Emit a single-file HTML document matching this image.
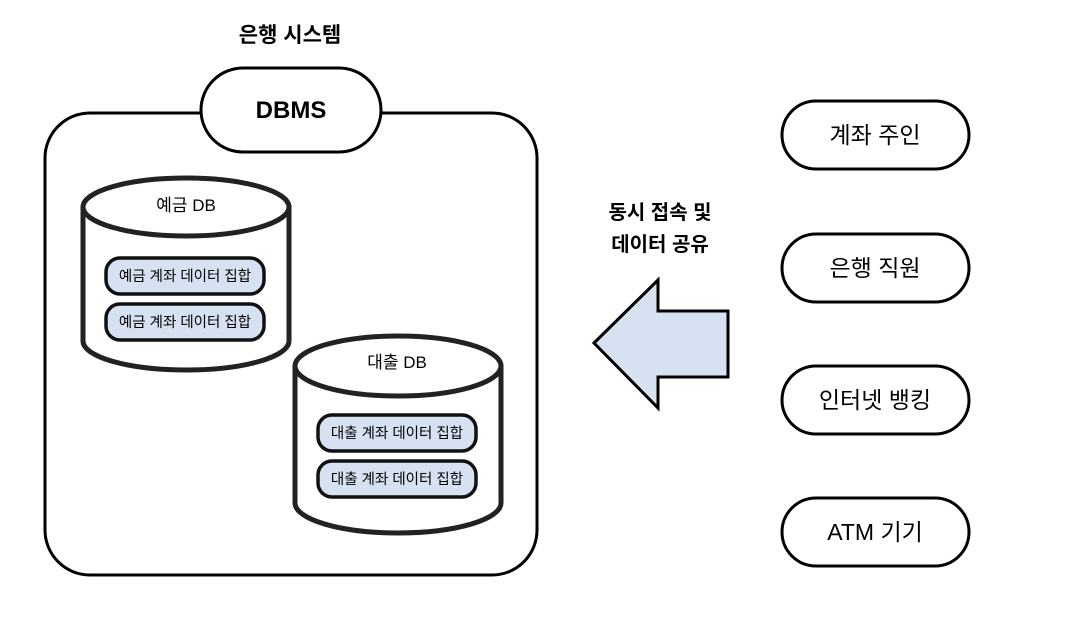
<!DOCTYPE html>
<html><head><meta charset="utf-8"><style>
body{margin:0;background:#fff}
svg text{font-family:"Liberation Sans","Noto Sans CJK KR",sans-serif;fill:#000}
</style></head><body>
<svg width="1080" height="619" viewBox="0 0 1080 619" xmlns="http://www.w3.org/2000/svg">
<text x="290" y="42" font-size="21" font-weight="bold" text-anchor="middle">은행 시스템</text>
<rect x="45" y="113" width="492" height="462" rx="45" fill="#fff" stroke="#000" stroke-width="3"/>
<rect x="201" y="68" width="180" height="84" rx="42" fill="#fff" stroke="#000" stroke-width="3"/>
<text x="291" y="118" font-size="24" font-weight="bold" text-anchor="middle">DBMS</text>
<g stroke="#222" stroke-width="5" fill="#fff">
<path d="M83 207 V341 A103 29 0 0 0 289 341 V207"/>
<ellipse cx="186" cy="207" rx="103" ry="29"/>
<path d="M295 365 V503 A103 30 0 0 0 501 503 V365"/>
<ellipse cx="398" cy="366" rx="103" ry="30"/>
</g>
<text x="186" y="211" font-size="17" text-anchor="middle">예금 DB</text>
<text x="397" y="368" font-size="17" text-anchor="middle">대출 DB</text>
<g stroke="#111" stroke-width="3.5" fill="#d6e2f1">
<rect x="106" y="258" width="158" height="36" rx="14"/>
<rect x="106" y="304" width="158" height="36" rx="14"/>
<rect x="318" y="415" width="158" height="36" rx="14"/>
<rect x="318" y="461" width="158" height="36" rx="14"/>
</g>
<g font-size="14.5" text-anchor="middle">
<text x="185" y="281">예금 계좌 데이터 집합</text>
<text x="185" y="327">예금 계좌 데이터 집합</text>
<text x="397" y="438">대출 계좌 데이터 집합</text>
<text x="397" y="484">대출 계좌 데이터 집합</text>
</g>
<text x="660" y="219" font-size="20" font-weight="bold" text-anchor="middle">동시 접속 및</text>
<text x="660" y="251" font-size="20" font-weight="bold" text-anchor="middle">데이터 공유</text>
<polygon points="594,343 658,280 658,311 728,311 728,377 658,377 658,408" fill="#d6e2f1" stroke="#000" stroke-width="3"/>
<g stroke="#000" stroke-width="3" fill="#fff">
<rect x="782" y="101" width="187" height="68" rx="34"/>
<rect x="782" y="234" width="187" height="68" rx="34"/>
<rect x="782" y="366" width="187" height="68" rx="34"/>
<rect x="782" y="498" width="187" height="68" rx="34"/>
</g>
<g font-size="23" text-anchor="middle">
<text x="875" y="143">계좌 주인</text>
<text x="875" y="276">은행 직원</text>
<text x="875" y="408">인터넷 뱅킹</text>
<text x="875" y="540">ATM 기기</text>
</g>
</svg>
</body></html>
